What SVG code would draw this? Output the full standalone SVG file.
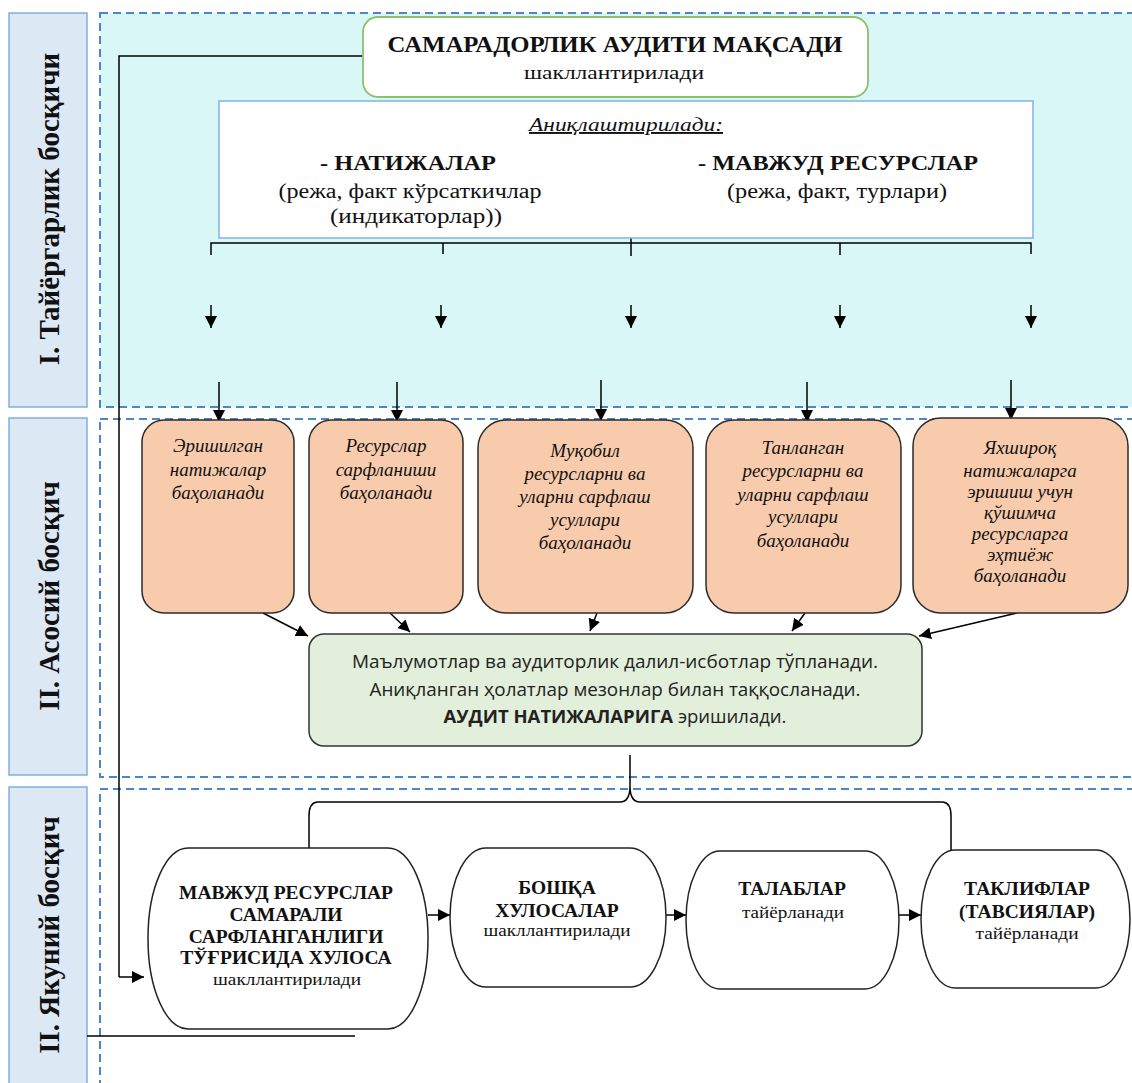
<svg xmlns="http://www.w3.org/2000/svg" width="1132" height="1083" viewBox="0 0 1132 1083">
<defs>
<marker id="ah" markerUnits="userSpaceOnUse" markerWidth="12" markerHeight="14" viewBox="0 0 12 14" refX="12" refY="7" orient="auto">
<path d="M0,1 L12,7 L0,13 Z" fill="#000"/>
</marker>
<style>
.sec{stroke:#4a86c8;stroke-width:2;stroke-dasharray:8 5;}
.lbl{fill:#dde8f5;stroke:#7fb0e0;stroke-width:1.5;}
.lt{font-family:"Liberation Serif",serif;font-weight:bold;font-size:29px;fill:#111;text-anchor:middle;}
.ser{font-family:"Liberation Serif",serif;fill:#111;text-anchor:middle;}
.b{font-weight:bold;}
.or{fill:#f8cbad;stroke:#2b2b2b;stroke-width:1.5;}
.ot{font-family:"Liberation Serif",serif;font-style:italic;font-size:19px;fill:#111;text-anchor:middle;}
.gr{fill:#e2efda;stroke:#333;stroke-width:1.5;}
.gt{font-family:"Open Sans",sans-serif;font-size:18.5px;fill:#222;text-anchor:middle;}
.nd{fill:#fff;stroke:#222;stroke-width:1.5;}
.nt{font-family:"Liberation Serif",serif;font-weight:bold;font-size:19.5px;fill:#111;text-anchor:middle;}
.ns{font-family:"Liberation Serif",serif;font-size:16.5px;fill:#111;text-anchor:middle;}
.ln{fill:none;stroke:#000;stroke-width:1.5;}
.ar{fill:none;stroke:#000;stroke-width:1.5;marker-end:url(#ah);}
</style>
</defs>
<rect width="1132" height="1083" fill="#fff"/>

<g id="sections">
<rect class="sec" x="100" y="13" width="1045" height="394" fill="#d9f7f7"/>
<rect class="sec" x="100" y="419" width="1045" height="358" fill="#fff"/>
<rect class="sec" x="100" y="789" width="1045" height="320" fill="#fff"/>
</g>

<g id="stage1">
<rect class="lbl" x="9" y="13" width="78" height="394"/>
<text class="lt" transform="translate(59,209) rotate(-90)">I. Тайёргарлик босқичи</text>
</g>
<g id="stage2">
<rect class="lbl" x="9" y="418" width="78" height="357"/>
<text class="lt" transform="translate(59,596) rotate(-90)">II. Асосий босқич</text>
</g>
<g id="stage3">
<rect class="lbl" x="9" y="787" width="78" height="310"/>
<text class="lt" transform="translate(59,935) rotate(-90)">II. Якуний босқич</text>
</g>

<g id="connectors">
<path class="ln" d="M363,56 H119 V977"/>
<path class="ar" d="M119,977 H144"/>
<path class="ln" d="M87,1036 H355"/>
<path class="ln" d="M631,228 V256 M211,255 V243 H1031 V254 M443,243 V254 M840,243 V255"/>
<path class="ar" d="M211,305 V328"/>
<path class="ar" d="M441,305 V328"/>
<path class="ar" d="M631,305 V328"/>
<path class="ar" d="M840,305 V328"/>
<path class="ar" d="M1031,305 V328"/>
<path class="ar" d="M219,382 V422"/>
<path class="ar" d="M397,382 V422"/>
<path class="ar" d="M601,380 V421"/>
<path class="ar" d="M807,382 V422"/>
<path class="ar" d="M1011,380 V420"/>
<path class="ar" d="M263,613 L308,636"/>
<path class="ar" d="M390,613 L410,632"/>
<path class="ar" d="M597,613 L590,631"/>
<path class="ar" d="M805,613 L792,631"/>
<path class="ar" d="M1017,613 L919,636"/>
<path class="ln" d="M630,755 V786 Q630,802 640,802 H943 Q951,803 951,816 V850 M630,786 Q630,802 620,802 H317 Q309,803 309,816 V848"/>
<path class="ar" d="M428,915 H450"/>
<path class="ar" d="M666,915 H686"/>
<path class="ar" d="M899,915 H921"/>
</g>

<g id="goal">
<rect x="363" y="17" width="505" height="80" rx="15" fill="#fff" stroke="#8cc06a" stroke-width="1.8"/>
<text class="ser b" x="615" y="52" font-size="23.5px" textLength="455" lengthAdjust="spacingAndGlyphs">САМАРАДОРЛИК АУДИТИ МАҚСАДИ</text>
<text class="ser" x="614" y="79" font-size="18px" textLength="180" lengthAdjust="spacingAndGlyphs">шакллантирилади</text>
</g>

<g id="clarify">
<rect x="219" y="101" width="814" height="137" fill="#fff" stroke="#7fb2e5" stroke-width="1.5"/>
<text class="ser" x="626" y="131" font-size="19px" font-style="italic" text-decoration="underline" textLength="194" lengthAdjust="spacingAndGlyphs">Аниқлаштирилади:</text>
<text class="ser b" x="408" y="170" font-size="21.5px" textLength="176" lengthAdjust="spacingAndGlyphs">- НАТИЖАЛАР</text>
<text class="ser" x="410" y="198" font-size="20px" textLength="263" lengthAdjust="spacingAndGlyphs">(режа, факт кўрсаткичлар</text>
<text class="ser" x="416" y="223" font-size="20px" textLength="172" lengthAdjust="spacingAndGlyphs">(индикаторлар))</text>
<text class="ser b" x="838" y="170" font-size="21.5px" textLength="280" lengthAdjust="spacingAndGlyphs">- МАВЖУД РЕСУРСЛАР</text>
<text class="ser" x="837" y="198" font-size="20px" textLength="220" lengthAdjust="spacingAndGlyphs">(режа, факт, турлари)</text>
</g>

<g id="eval1">
<rect class="or" x="142" y="420" width="152" height="193" rx="22"/>
<text class="ot" x="218" y="452">Эришилган</text>
<text class="ot" x="218" y="476">натижалар</text>
<text class="ot" x="218" y="499">баҳоланади</text>
</g>
<g id="eval2">
<rect class="or" x="309" y="420" width="154" height="193" rx="22"/>
<text class="ot" x="386" y="452">Ресурслар</text>
<text class="ot" x="386" y="476">сарфланиши</text>
<text class="ot" x="386" y="499">баҳоланади</text>
</g>
<g id="eval3">
<rect class="or" x="478" y="420" width="215" height="193" rx="28"/>
<text class="ot" x="585" y="457">Муқобил</text>
<text class="ot" x="585" y="480">ресурсларни ва</text>
<text class="ot" x="585" y="503">уларни сарфлаш</text>
<text class="ot" x="585" y="526">усуллари</text>
<text class="ot" x="585" y="549">баҳоланади</text>
</g>
<g id="eval4">
<rect class="or" x="706" y="420" width="195" height="193" rx="28"/>
<text class="ot" x="803" y="454">Танланган</text>
<text class="ot" x="803" y="477">ресурсларни ва</text>
<text class="ot" x="803" y="501">уларни сарфлаш</text>
<text class="ot" x="803" y="523">усуллари</text>
<text class="ot" x="803" y="547">баҳоланади</text>
</g>
<g id="eval5">
<rect class="or" x="913" y="418" width="215" height="195" rx="28"/>
<text class="ot" x="1020" y="454">Яхшироқ</text>
<text class="ot" x="1020" y="477">натижаларга</text>
<text class="ot" x="1020" y="498">эришиш учун</text>
<text class="ot" x="1020" y="519">қўшимча</text>
<text class="ot" x="1020" y="540">ресурсларга</text>
<text class="ot" x="1020" y="561">эҳтиёж</text>
<text class="ot" x="1020" y="582">баҳоланади</text>
</g>

<g id="collect">
<rect class="gr" x="309" y="634" width="613" height="112" rx="15"/>
<text class="gt" x="615" y="668" textLength="526" lengthAdjust="spacingAndGlyphs">Маълумотлар ва аудиторлик далил-исботлар тўпланади.</text>
<text class="gt" x="615" y="696" textLength="491" lengthAdjust="spacingAndGlyphs">Аниқланган ҳолатлар мезонлар билан таққосланади.</text>
<text class="gt" x="615" y="723"><tspan font-weight="bold">АУДИТ НАТИЖАЛАРИГА</tspan> эришилади.</text>
</g>

<g id="conclusion">
<rect class="nd" x="148" y="848" width="280" height="181" rx="40" ry="90"/>
<text class="nt" x="286" y="899" textLength="214" lengthAdjust="spacingAndGlyphs">МАВЖУД РЕСУРСЛАР</text>
<text class="nt" x="286" y="921">САМАРАЛИ</text>
<text class="nt" x="286" y="943">САРФЛАНГАНЛИГИ</text>
<text class="nt" x="286" y="964">ТЎҒРИСИДА ХУЛОСА</text>
<text class="ns" x="287" y="985" textLength="148" lengthAdjust="spacingAndGlyphs">шакллантирилади</text>
</g>
<g id="other">
<rect class="nd" x="450" y="848" width="216" height="139" rx="36" ry="69"/>
<text class="nt" x="557" y="894">БОШҚА</text>
<text class="nt" x="557" y="917">ХУЛОСАЛАР</text>
<text class="ns" x="557" y="936" textLength="147" lengthAdjust="spacingAndGlyphs">шакллантирилади</text>
</g>
<g id="requirements">
<rect class="nd" x="686" y="851" width="213" height="138" rx="34" ry="69"/>
<text class="nt" x="792" y="895">ТАЛАБЛАР</text>
<text class="ns" x="793" y="918" textLength="102" lengthAdjust="spacingAndGlyphs">тайёрланади</text>
</g>
<g id="proposals">
<rect class="nd" x="921" y="850" width="209" height="138" rx="34" ry="69"/>
<text class="nt" x="1027" y="895">ТАКЛИФЛАР</text>
<text class="nt" x="1027" y="918">(ТАВСИЯЛАР)</text>
<text class="ns" x="1027" y="939" textLength="103" lengthAdjust="spacingAndGlyphs">тайёрланади</text>
</g>
</svg>
